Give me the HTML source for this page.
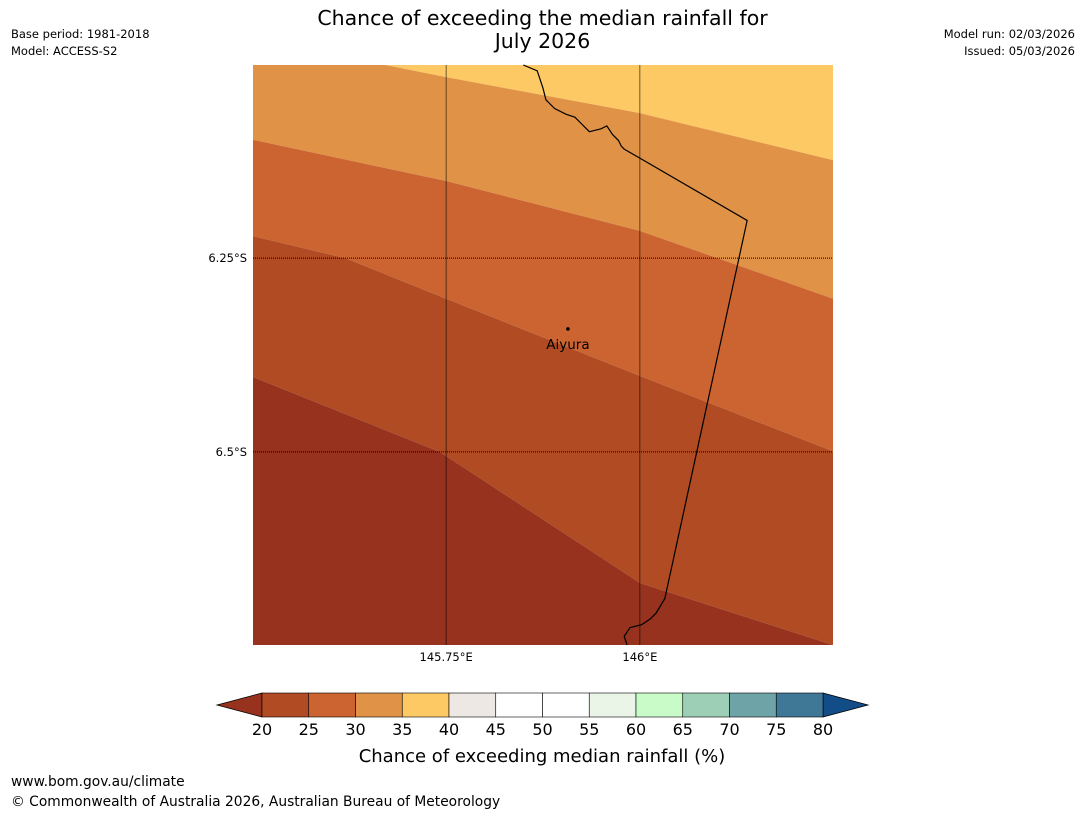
<!DOCTYPE html>
<html><head><meta charset="utf-8">
<style>
body{margin:0;width:1085px;height:816px;background:#fff;font-family:"DejaVu Sans","Liberation Sans",sans-serif;overflow:hidden;position:relative}
.t{position:absolute;white-space:nowrap;color:#000}
</style></head><body>
<div class="t" style="left:0;width:1085px;top:7px;text-align:center;font-size:20.5px;line-height:23px">Chance of exceeding the median rainfall for<br>July 2026</div>
<div class="t" style="left:11px;top:26px;font-size:11.5px;line-height:17px">Base period: 1981-2018<br>Model: ACCESS-S2</div>
<div class="t" style="right:10px;top:26px;font-size:11.5px;line-height:17px;text-align:right">Model run: 02/03/2026<br>Issued: 05/03/2026</div>
<div class="t" style="left:11px;top:774px;font-size:13.8px">www.bom.gov.au/climate</div>
<div class="t" style="left:11px;top:794px;font-size:13.8px">© Commonwealth of Australia 2026, Australian Bureau of Meteorology</div>
<svg id="s" width="1085" height="816" style="position:absolute;left:0;top:0" font-family="DejaVu Sans, Liberation Sans, sans-serif"></svg>
<script>
const bandColors=["#fdc965","#e09346","#cb6431","#b04b24","#96321e"];
const bandValues=[37,32,27,22,18];
const boundaryXs=[[0.228,0.333,0.667,1],[0,0.333,0.667,1],[0,0.159,0.333,0.667,1],[0,0.322,0.667,1]];
const boundaryYs=[[0,0.021,0.083,0.164],[0.129,0.200,0.286,0.403],[0.295,0.333,0.403,0.536,0.666],[0.538,0.667,0.893,1]];
const lonTicks=["145.75°E","146°E"], lonPos=[0.333,0.667];
const latTicks=["6.25°S","6.5°S"], latPos=[0.333,0.667];
const cbBounds=[20,25,30,35,40,45,50,55,60,65,70,75,80];
const cbColors=["#b04b24","#cb6431","#e09346","#fdc965","#ede8e3","#ffffff","#ffffff","#eaf5e8","#c8fbc8","#9dcfb7","#6ea3a7","#3f7796"];
const town={name:"Aiyura",fx:0.543,fy:0.455};
const border=[[0.466,0],[0.49,0.01],[0.5,0.04],[0.505,0.06],[0.52,0.075],[0.54,0.085],[0.555,0.09],[0.565,0.1],[0.58,0.115],[0.6,0.11],[0.61,0.105],[0.62,0.12],[0.63,0.13],[0.635,0.14],[0.64,0.145],[0.852,0.268],[0.71,0.92],[0.695,0.945],[0.685,0.955],[0.67,0.965],[0.65,0.97],[0.64,0.985],[0.645,1]];
const S=document.getElementById('s'),NS="http://www.w3.org/2000/svg";
const MX=253,MY=65,MW=580,MH=580;
const X=f=>MX+f*MW, Y=f=>MY+f*MH;
function el(t,a,p){const e=document.createElementNS(NS,t);for(const k in a)e.setAttribute(k,a[k]);(p||S).appendChild(e);return e;}
let prev=[[0,0],[1,0]];
for(let i=0;i<bandColors.length;i++){
  let next=i<boundaryXs.length?boundaryXs[i].map((x,j)=>[x,boundaryYs[i][j]]):[[0,1],[1,1]];
  let pts;
  if(i==0)pts=[[0,0],[1,0],...next.slice().reverse(),[0,next[0][1]],[0,0]];
  else pts=[[0,prev[0][1]],...prev,...next.slice().reverse(),[0,next[0][1]]];
  const p=el('polygon',{points:pts.map(q=>X(q[0])+','+Y(q[1])).join(' '),fill:bandColors[i]});
  
  
  prev=next;
}
lonPos.forEach((f,i)=>{
  const l=el('line',{x1:X(f),x2:X(f),y1:MY,y2:MY+MH,stroke:"#000","stroke-width":0.8,"stroke-opacity":0.7});
  
  
  const t=el('text',{x:X(f),y:MY+MH+16,"text-anchor":"middle","font-size":11.5});t.textContent=lonTicks[i];
  
  
});
latPos.forEach((f,i)=>{
  const l=el('line',{x1:MX,x2:MX+MW,y1:Y(f),y2:Y(f),stroke:"#000","stroke-width":1,"stroke-dasharray":"1,1"});
  
  
  const t=el('text',{x:MX-6,y:Y(f)+4,"text-anchor":"end","font-size":11.5});t.textContent=latTicks[i];
  
  
});
const b=el('polyline',{points:border.map(q=>X(q[0])+','+Y(q[1])).join(' '),fill:"none",stroke:"#000","stroke-width":1.2});


const d=el('circle',{cx:X(town.fx),cy:Y(town.fy),r:1.8,fill:"#000"});


const tt=el('text',{x:X(town.fx),y:Y(town.fy)+20,"text-anchor":"middle","font-size":13.5});tt.textContent=town.name;


const CX0=262,CX1=823,CY=693,CH=24;
const cx=v=>CX0+(v-20)/(80-20)*(CX1-CX0);
const le=el('polygon',{points:`217,705 ${CX0},${CY} ${CX0},${CY+CH}`,fill:"#96321e",stroke:"#000","stroke-width":0.8});


const re=el('polygon',{points:`868,705 ${CX1},${CY} ${CX1},${CY+CH}`,fill:"#134d87",stroke:"#000","stroke-width":0.8});


cbColors.forEach((c,i)=>{
  const r=el('rect',{x:cx(cbBounds[i]),y:CY,width:cx(cbBounds[i+1])-cx(cbBounds[i]),height:CH,fill:c,stroke:"#000","stroke-width":0.6});
  
  
});
cbBounds.forEach(v=>{
  const t=el('text',{x:cx(v),y:735,"text-anchor":"middle","font-size":16});t.textContent=v;
  
  
});
const ct=el('text',{x:542,y:762,"text-anchor":"middle","font-size":18});ct.textContent="Chance of exceeding median rainfall (%)";


</script>
</body></html>
